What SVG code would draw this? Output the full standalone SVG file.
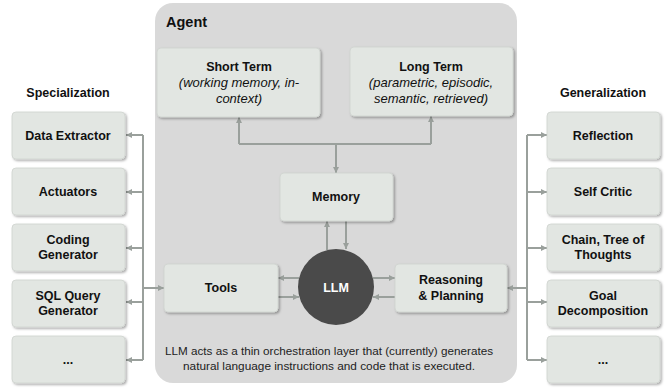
<svg xmlns="http://www.w3.org/2000/svg" width="667" height="389" viewBox="0 0 667 389">
<style>
.bg{fill:#ffffff}
.agent{fill:#d9d9d9}
.box{fill:#e2e6e2;stroke:#cfd3cf;stroke-width:0.8}
.t{font-family:"Liberation Sans",Arial,sans-serif;font-size:12.5px;font-weight:bold;fill:#111;text-anchor:middle}
.it{font-family:"Liberation Sans",Arial,sans-serif;font-size:13px;font-style:italic;fill:#111;text-anchor:middle}
.hd{font-family:"Liberation Sans",Arial,sans-serif;font-size:12.5px;font-weight:bold;fill:#111;text-anchor:middle}
.note{font-family:"Liberation Sans",Arial,sans-serif;font-size:11.8px;fill:#222;text-anchor:middle}
.c{fill:none;stroke:#9aa09c;stroke-width:2}
</style>
<defs>
<filter id="sh" x="-10%" y="-10%" width="125%" height="130%">
<feDropShadow dx="1.5" dy="1.5" stdDeviation="1.2" flood-color="#000" flood-opacity="0.33"/>
</filter>
<marker id="ah" markerUnits="userSpaceOnUse" markerWidth="7" markerHeight="7" refX="6" refY="3" orient="auto">
<path d="M0,0 L6,3 L0,6 z" fill="#9aa09c"/>
</marker>
</defs>
<rect class="bg" x="0" y="0" width="667" height="389"/>
<g id="agent">
<rect class="agent" x="155" y="3" width="362" height="380" rx="18"/>
<text class="hd" x="166" y="27" style="text-anchor:start;font-size:14.5px">Agent</text>
</g>
<text class="hd" x="68" y="97">Specialization</text>
<text class="hd" x="603" y="97">Generalization</text>

<g id="connectors">
<path class="c" d="M143,135 V360"/>
<path class="c" d="M143,135 H126" marker-end="url(#ah)"/>
<path class="c" d="M143,192 H126" marker-end="url(#ah)"/>
<path class="c" d="M143,248 H126" marker-end="url(#ah)"/>
<path class="c" d="M143,302 H126" marker-end="url(#ah)"/>
<path class="c" d="M143,360 H126" marker-end="url(#ah)"/>
<path class="c" d="M143,288 H164" marker-end="url(#ah)"/>
<path class="c" d="M527,135 V360"/>
<path class="c" d="M527,135 H547" marker-end="url(#ah)"/>
<path class="c" d="M527,192 H547" marker-end="url(#ah)"/>
<path class="c" d="M527,248 H547" marker-end="url(#ah)"/>
<path class="c" d="M527,302 H547" marker-end="url(#ah)"/>
<path class="c" d="M527,360 H547" marker-end="url(#ah)"/>
<path class="c" d="M527,288 H507" marker-end="url(#ah)"/>
<path class="c" d="M239,144 H431"/>
<path class="c" d="M239,144 V117" marker-end="url(#ah)"/>
<path class="c" d="M431,144 V116" marker-end="url(#ah)"/>
<path class="c" d="M336,144 V173" marker-end="url(#ah)"/>
<path class="c" d="M327,250 V221" marker-end="url(#ah)"/>
<path class="c" d="M346,221 V249" marker-end="url(#ah)"/>
<path class="c" d="M299,278 H278" marker-end="url(#ah)"/>
<path class="c" d="M278,297 H299" marker-end="url(#ah)"/>
<path class="c" d="M373,278 H395" marker-end="url(#ah)"/>
<path class="c" d="M395,297 H373" marker-end="url(#ah)"/>
</g>

<g id="short-term">
<rect class="box" filter="url(#sh)" x="157" y="48" width="163" height="69" rx="4"/>
<text class="t" x="239" y="71">Short Term</text>
<text class="it" x="239" y="87">(working memory, in-</text>
<text class="it" x="239" y="103">context)</text>
</g>
<g id="long-term">
<rect class="box" filter="url(#sh)" x="350" y="47" width="163" height="69" rx="4"/>
<text class="t" x="431" y="71">Long Term</text>
<text class="it" x="431" y="87">(parametric, episodic,</text>
<text class="it" x="431" y="103">semantic, retrieved)</text>
</g>
<g id="memory">
<rect class="box" filter="url(#sh)" x="280" y="173" width="113" height="48" rx="4"/>
<text class="t" x="336" y="201">Memory</text>
</g>
<g id="llm">
<circle cx="336" cy="287" r="38" fill="#4a4a4a"/>
<text class="t" x="336" y="292" style="fill:#ffffff">LLM</text>
</g>
<g id="tools">
<rect class="box" filter="url(#sh)" x="164" y="264" width="114" height="48" rx="4"/>
<text class="t" x="221" y="292">Tools</text>
</g>
<g id="reasoning">
<rect class="box" filter="url(#sh)" x="395" y="264" width="112" height="48" rx="4"/>
<text class="t" x="451" y="284">Reasoning</text>
<text class="t" x="451" y="300">&amp; Planning</text>
</g>

<g id="data-extractor">
<rect class="box" filter="url(#sh)" x="12" y="112" width="113" height="47" rx="4"/>
<text class="t" x="68" y="140">Data Extractor</text>
</g>
<g id="actuators">
<rect class="box" filter="url(#sh)" x="12" y="168" width="113" height="47" rx="4"/>
<text class="t" x="68" y="196">Actuators</text>
</g>
<g id="coding-generator">
<rect class="box" filter="url(#sh)" x="12" y="224" width="113" height="47" rx="4"/>
<text class="t" x="68" y="244">Coding</text>
<text class="t" x="68" y="259">Generator</text>
</g>
<g id="sql-query-generator">
<rect class="box" filter="url(#sh)" x="12" y="280" width="113" height="47" rx="4"/>
<text class="t" x="68" y="300">SQL Query</text>
<text class="t" x="68" y="315">Generator</text>
</g>
<g id="spec-more">
<rect class="box" filter="url(#sh)" x="12" y="336" width="113" height="47" rx="4"/>
<text class="t" x="68" y="364">...</text>
</g>

<g id="reflection">
<rect class="box" filter="url(#sh)" x="547" y="112" width="113" height="47" rx="4"/>
<text class="t" x="603" y="140">Reflection</text>
</g>
<g id="self-critic">
<rect class="box" filter="url(#sh)" x="547" y="168" width="113" height="47" rx="4"/>
<text class="t" x="603" y="196">Self Critic</text>
</g>
<g id="chain-tree">
<rect class="box" filter="url(#sh)" x="547" y="224" width="113" height="47" rx="4"/>
<text class="t" x="603" y="244">Chain, Tree of</text>
<text class="t" x="603" y="259">Thoughts</text>
</g>
<g id="goal-decomposition">
<rect class="box" filter="url(#sh)" x="547" y="280" width="113" height="47" rx="4"/>
<text class="t" x="603" y="300">Goal</text>
<text class="t" x="603" y="315">Decomposition</text>
</g>
<g id="gen-more">
<rect class="box" filter="url(#sh)" x="547" y="336" width="113" height="47" rx="4"/>
<text class="t" x="603" y="364">...</text>
</g>

<text class="note" x="329" y="355" textLength="328" lengthAdjust="spacingAndGlyphs">LLM acts as a thin orchestration layer that (currently) generates</text>
<text class="note" x="329" y="370" textLength="292" lengthAdjust="spacingAndGlyphs">natural language instructions and code that is executed.</text>
</svg>
